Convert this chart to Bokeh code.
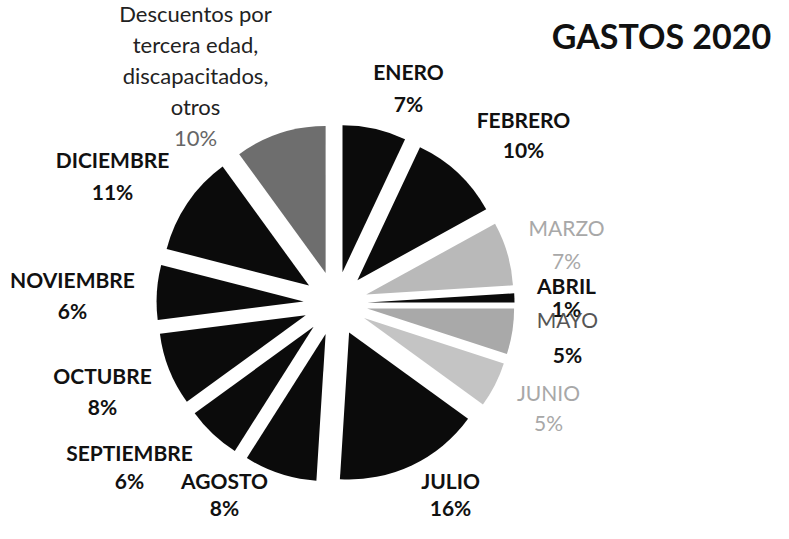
import math
from bokeh.plotting import figure
from bokeh.models import ColumnDataSource, Range1d
from bokeh.core.properties import value
from bokeh.embed import file_html
from bokeh.resources import INLINE

# ---- data ----
categories = ["ENERO", "FEBRERO", "MARZO", "ABRIL", "MAYO", "JUNIO", "JULIO",
              "AGOSTO", "SEPTIEMBRE", "OCTUBRE", "NOVIEMBRE", "DICIEMBRE",
              "Descuentos por\ntercera edad,\ndiscapacitados,\notros"]
percent = [7, 10, 7, 1, 5, 5, 16, 8, 6, 8, 6, 11, 10]
title = "GASTOS 2020"

# ---- styling / layout ----
W, H = 773, 523
slice_colors = ["#0b0b0b", "#0b0b0b", "#b9b9b9", "#0b0b0b", "#a9a9a9", "#c4c4c4",
                "#0b0b0b", "#0b0b0b", "#0b0b0b", "#0b0b0b", "#0b0b0b", "#0b0b0b",
                "#6e6e6e"]
# label anchor (page px) for each slice: (x, y_name, y_pct)
label_pos = [(416, 79, 111), (531, 127, 157), (574, 235, 268), (574, 293, 316),
             (575, 327, 362), (556, 400, 430), (458, 488, 515), (232, 488, 515),
             (137, 460, 488), (110, 383, 414), (80, 287, 318), (120, 167, 199),
             (203, 21, 145)]
name_style = ["bold", "bold", "normal", "bold", "normal", "normal", "bold", "bold",
              "bold", "bold", "bold", "bold", "normal"]
name_color = ["#111", "#111", "#a8a8a8", "#111", "#555", "#a8a8a8", "#111", "#111",
              "#111", "#111", "#111", "#111", "#222"]
name_size = ["21px"] * 12 + ["22px"]
pct_style = ["bold", "bold", "normal", "bold", "bold", "normal", "bold", "bold",
             "bold", "bold", "bold", "bold", "normal"]
pct_color = ["#111", "#111", "#a8a8a8", "#111", "#111", "#a8a8a8", "#111", "#111",
             "#111", "#111", "#111", "#111", "#666"]

CX, CY = 343, 311        # pie centre (page px)
R, E = 147, 32           # radius and explode distance (px)
FONT = "Lato"

def dy(y_screen):
    return (H + 8) - y_screen

def dx(x_screen):
    return x_screen - 8

p = figure(width=W, height=H, output_backend="svg", toolbar_location=None,
           x_range=Range1d(0, W), y_range=Range1d(0, H), min_border=0)
p.axis.visible = False
p.grid.visible = False
p.outline_line_color = None
p.background_fill_color = "white"
p.border_fill_color = "white"

total = sum(percent)
xs, ys, starts, ends = [], [], [], []
cum = 0.0
for v in percent:
    t1 = 2 * math.pi * cum / total
    t2 = 2 * math.pi * (cum + v) / total
    m = (t1 + t2) / 2
    xs.append(dx(CX) + E * math.sin(m))
    ys.append(dy(CY) + E * math.cos(m))
    starts.append(math.pi / 2 - t2)
    ends.append(math.pi / 2 - t1)
    cum += v

src = ColumnDataSource(dict(x=xs, y=ys, start=starts, end=ends, color=slice_colors))
p.wedge(x="x", y="y", radius=R, start_angle="start", end_angle="end",
        direction="anticlock", fill_color="color", line_color=None, source=src)

# labels
for i, cat in enumerate(categories):
    lx, ly_name, ly_pct = label_pos[i]
    lines = cat.split("\n")
    step = (ly_pct - ly_name) / len(lines) if len(lines) > 1 else 0
    for j, ln in enumerate(lines):
        p.text(x=[dx(lx)], y=[dy(ly_name + j * step)], text=[ln],
               text_font=value(FONT), text_font_size=name_size[i],
               text_font_style=name_style[i], text_color=name_color[i],
               text_align="center", text_baseline="middle")
    p.text(x=[dx(lx)], y=[dy(ly_pct)], text=[f"{percent[i]}%"],
           text_font=value(FONT), text_font_size=name_size[i],
           text_font_style=pct_style[i], text_color=pct_color[i],
           text_align="center", text_baseline="middle")

p.text(x=[dx(669)], y=[dy(43)], text=[title], text_font=value(FONT),
       text_font_size="34px", text_font_style="bold", text_color="#111",
       text_align="center", text_baseline="middle")

open("out.html", "w").write(file_html(p, INLINE))
